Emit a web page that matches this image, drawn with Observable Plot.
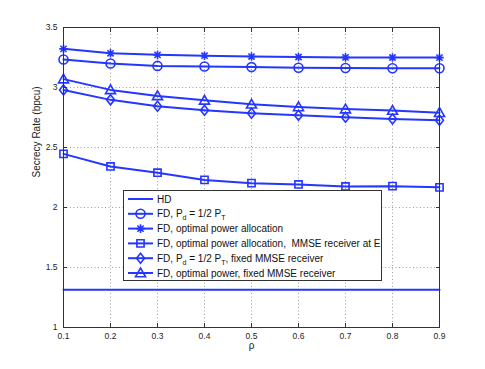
<!DOCTYPE html>
<html>
<head>
<meta charset="utf-8">
<script src="https://cdn.jsdelivr.net/npm/d3@7"></script>
<script src="https://cdn.jsdelivr.net/npm/@observablehq/plot@0.6"></script>
<style>
  html, body { margin: 0; padding: 0; background: #fff; }
  #chart { width: 485px; height: 369px; }
  svg { display: block; }
</style>
</head>
<body>
<div id="chart"></div>
<script>
const rho = [0.1, 0.2, 0.3, 0.4, 0.5, 0.6, 0.7, 0.8, 0.9];
const hd          = [1.314, 1.314, 1.314, 1.314, 1.314, 1.314, 1.314, 1.314, 1.314];
const fdHalf      = [3.233, 3.200, 3.180, 3.175, 3.170, 3.165, 3.162, 3.160, 3.160];
const fdOpt       = [3.322, 3.285, 3.272, 3.265, 3.258, 3.254, 3.251, 3.250, 3.249];
const fdOptMmseE  = [2.447, 2.342, 2.290, 2.230, 2.203, 2.192, 2.175, 2.178, 2.168];
const fdHalfMmse  = [2.980, 2.897, 2.843, 2.810, 2.785, 2.768, 2.752, 2.738, 2.728];
const fdOptMmse   = [3.070, 2.980, 2.930, 2.893, 2.860, 2.838, 2.820, 2.808, 2.790];
const xTicks = [0.1, 0.2, 0.3, 0.4, 0.5, 0.6, 0.7, 0.8, 0.9];
const yTicks = [1, 1.5, 2, 2.5, 3, 3.5];
const xLabel = "ρ";
const yLabel = "Secrecy Rate (bpcu)";

const series = [
  {key: "hd", values: hd, symbol: null, legend: [["HD", null]]},
  {key: "fdHalf", values: fdHalf, symbol: "circle", legend: [["FD, P", null], ["d", "sub"], [" = 1/2 P", null], ["T", "sub"]]},
  {key: "fdOpt", values: fdOpt, symbol: "star", legend: [["FD, optimal power allocation", null]]},
  {key: "fdOptMmseE", values: fdOptMmseE, symbol: "square", legend: [["FD, optimal power allocation,  MMSE receiver at E", null]]},
  {key: "fdHalfMmse", values: fdHalfMmse, symbol: "diamond", legend: [["FD, P", null], ["d", "sub"], [" = 1/2 P", null], ["T", "sub"], [", fixed MMSE receiver", null]]},
  {key: "fdOptMmse", values: fdOptMmse, symbol: "triangle", legend: [["FD, optimal power, fixed MMSE receiver", null]]}
];

const blue = "#2436ff";

// MATLAB-like marker shapes (r = sqrt(size/π))
const rad = size => Math.sqrt(size / Math.PI);
const symbols = {
  circle: {draw(c, size) { const r = rad(size); c.moveTo(r, 0); c.arc(0, 0, r, 0, 2 * Math.PI); c.closePath(); }},
  square: {draw(c, size) { const r = rad(size); c.rect(-r, -r, 2 * r, 2 * r); }},
  diamond: {draw(c, size) { const r = rad(size); c.moveTo(0, -r); c.lineTo(0.8 * r, 0); c.lineTo(0, r); c.lineTo(-0.8 * r, 0); c.closePath(); }},
  triangle: {draw(c, size) { const r = rad(size); c.moveTo(0, -r); c.lineTo(r, 0.75 * r); c.lineTo(-r, 0.75 * r); c.closePath(); }},
  star: {draw(c, size) { const r = rad(size); const q = r * 0.72;
    c.moveTo(-r, 0); c.lineTo(r, 0); c.moveTo(0, -r); c.lineTo(0, r);
    c.moveTo(-q, -q); c.lineTo(q, q); c.moveTo(-q, q); c.lineTo(q, -q); }}
};
const symR = {circle: 4.5, star: 4.3, square: 3.6, diamond: 5, triangle: 5};

const rows = [];
for (const s of series) s.values.forEach((v, i) => rows.push({series: s.key, rho: rho[i], value: v}));

const marks = [
  Plot.gridX(xTicks, {stroke: "#888", strokeOpacity: 0.8, strokeDasharray: "1,2.5"}),
  Plot.gridY(yTicks, {stroke: "#888", strokeOpacity: 0.8, strokeDasharray: "1,2.5"}),
];
for (const s of series) {
  const d = rows.filter(r => r.series === s.key);
  marks.push(Plot.line(d, {x: "rho", y: "value", stroke: blue, strokeWidth: 2}));
  if (s.symbol) marks.push(Plot.dot(d, {x: "rho", y: "value", symbol: symbols[s.symbol], r: symR[s.symbol], stroke: blue, fill: "none", strokeWidth: 1.6}));
}
marks.push(
  Plot.frame({stroke: "#333", strokeWidth: 1}),
  Plot.axisX({anchor: "bottom", ticks: xTicks, tickSize: -4, tickPadding: 9, tickFormat: d => String(d), label: null, fontSize: 8.5, stroke: "#333", color: "#222"}),
  Plot.axisX({anchor: "top", ticks: xTicks, tickSize: -4, tickFormat: () => "", label: null, stroke: "#333"}),
  Plot.axisY({anchor: "left", ticks: yTicks, tickSize: -4, tickPadding: 10, tickFormat: d => String(d), label: null, fontSize: 8.5, stroke: "#333", color: "#222"}),
  Plot.axisY({anchor: "right", ticks: yTicks, tickSize: -4, tickFormat: () => "", label: null, stroke: "#333"}),
  Plot.text([yLabel], {frameAnchor: "left", rotate: -90, dx: -27, fontSize: 10, fill: "#222", text: d => d}),
  Plot.text([xLabel], {frameAnchor: "bottom", dy: 21, fontSize: 10, fill: "#222", text: d => d}),
  // legend drawn in pixel space
  (index, scales, values, dims) => {
    const g = d3.create("svg:g").attr("text-anchor", "start");
    const x0 = 123.5, y0 = 190.5, w = 258, h = 90;
    g.append("rect").attr("x", x0).attr("y", y0).attr("width", w).attr("height", h)
      .attr("fill", "white").attr("stroke", "#333").attr("stroke-width", 1);
    series.forEach((s, i) => {
      const cy = 199 + i * 14.8;
      g.append("line").attr("x1", 128).attr("x2", 153).attr("y1", cy).attr("y2", cy)
        .attr("stroke", blue).attr("stroke-width", 2);
      if (s.symbol) {
        const r = symR[s.symbol];
        g.append("path").attr("d", d3.symbol(symbols[s.symbol], Math.PI * r * r)())
          .attr("transform", `translate(140.5,${cy})`)
          .attr("fill", "none").attr("stroke", blue).attr("stroke-width", 1.6);
      }
      const t = g.append("text").attr("x", 157).attr("y", cy).attr("dy", "0.35em")
        .attr("text-anchor", "start")
        .attr("font-size", 10).attr("font-family", "'Liberation Sans', Arial, sans-serif").attr("fill", "#111");
      let prevSub = false;
      for (const [str, kind] of s.legend) {
        const ts = t.append("tspan").text(str);
        if (kind === "sub") { ts.attr("dy", 3).attr("font-size", 7); prevSub = true; }
        else if (prevSub) { ts.attr("dy", -3); prevSub = false; }
      }
    });
    return g.node();
  }
);

const chart = Plot.plot({
  width: 485,
  height: 369,
  marginLeft: 63,
  marginRight: 46,
  marginTop: 27,
  marginBottom: 42,
  style: {fontFamily: "'Liberation Sans', Arial, sans-serif", background: "white"},
  x: {domain: [0.1, 0.9]},
  y: {domain: [1, 3.5]},
  marks
});
document.getElementById("chart").appendChild(chart);
</script>
</body>
</html>
